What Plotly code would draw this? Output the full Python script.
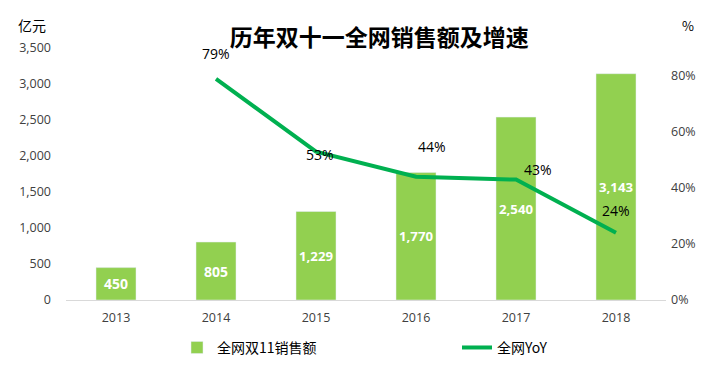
import plotly.graph_objects as go

years = ["2013", "2014", "2015", "2016", "2017", "2018"]
sales = [450, 805, 1229, 1770, 2540, 3143]
yoy_years = ["2014", "2015", "2016", "2017", "2018"]
yoy = [0.79, 0.53, 0.44, 0.43, 0.24]
# label offsets (pixels) relative to each point, as placed in the reference
yoy_dx = [0, 4, 16, 22, 0]
yoy_dy = [25, -3, 30, 10, 22]

left_ticks = [0, 500, 1000, 1500, 2000, 2500, 3000, 3500]
right_ticks = [0, 0.2, 0.4, 0.6, 0.8]

font_main = "Noto Sans CJK SC, Open Sans, sans-serif"
font_num = "Open Sans, sans-serif"

fig = go.Figure()
fig.add_trace(go.Bar(
    x=years, y=sales, name="全网双11销售额",
    marker_color="#92D050", width=0.4,
    text=[f"{v:,}" for v in sales], textposition="inside",
    insidetextanchor="middle", textangle=0,
    textfont=dict(color="white", size=14, family=font_num, weight="bold"),
))
fig.add_trace(go.Scatter(
    x=yoy_years, y=yoy, name="全网YoY", yaxis="y2", mode="lines",
    line=dict(color="#00B050", width=4),
))

annotations = [
    dict(text="亿元", xref="paper", yref="paper", x=-0.057, y=1.091, showarrow=False,
         font=dict(size=14, color="black", family=font_main), xanchor="center", yanchor="middle"),
    dict(text="%", xref="paper", yref="paper", x=1.037, y=1.091, showarrow=False,
         font=dict(size=13, color="black", family=font_main), xanchor="center", yanchor="middle"),
]
for xv, yv, dx, dy in zip(yoy_years, yoy, yoy_dx, yoy_dy):
    annotations.append(dict(
        text=f"{round(yv*100)}%", x=years.index(xv), y=yv, xref="x", yref="y2",
        showarrow=False, xshift=dx, yshift=dy,
        font=dict(size=14, color="black", family=font_num),
    ))

fig.update_layout(
    width=728, height=367,
    margin=dict(l=58, r=70, t=40, b=75, autoexpand=False),
    paper_bgcolor="white", plot_bgcolor="white",
    font=dict(family=font_main, size=13, color="#404040"),
    title=dict(text="<b>历年双十一全网销售额及增速</b>", x=0.51, xanchor="center",
               xref="container", y=0.918, yref="container", yanchor="middle",
               font=dict(size=23, color="black", family=font_main)),
    showlegend=True,
    legend=dict(orientation="h", x=0.185, xanchor="left", y=-0.19, yanchor="middle",
                font=dict(size=14, color="black", family=font_main),
                entrywidth=235, tracegroupgap=0),
    xaxis=dict(type="category", range=[-0.5, len(years) - 0.5], showline=True,
               linecolor="#D9D9D9", linewidth=1, ticks="",
               tickfont=dict(size=12.5, color="#404040", family=font_num),
               showgrid=False, ticklabelstandoff=6),
    yaxis=dict(range=[0, 3500], tickvals=left_ticks,
               ticktext=[f"{v:,}" for v in left_ticks], showgrid=False,
               zeroline=False, showline=False, ticks="", ticklabelstandoff=14,
               tickfont=dict(size=12.5, color="#404040", family=font_num)),
    yaxis2=dict(range=[0, 0.9], overlaying="y", side="right", tickvals=right_ticks,
                ticktext=[f"{round(v*100)}%" for v in right_ticks], showgrid=False,
                zeroline=False, showline=False, ticks="", ticklabelstandoff=4,
                tickfont=dict(size=12.5, color="#404040", family=font_num)),
    annotations=annotations,
    bargap=0.6,
)

fig.write_html("out.html")
